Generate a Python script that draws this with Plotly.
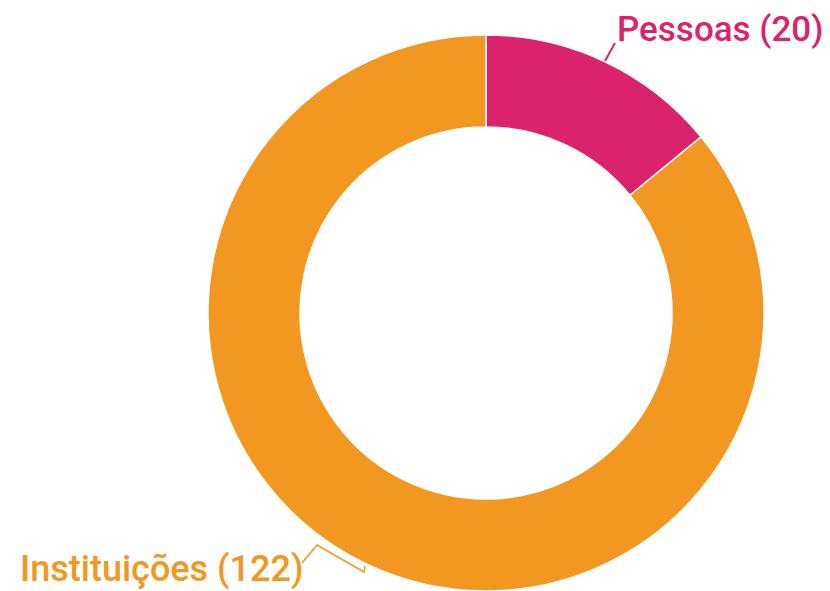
import plotly.graph_objects as go

labels = ["Pessoas", "Instituições"]
values = [20, 122]
colors = ["#DA236C", "#F29720"]

W, H = 830, 591
OFF = 8  # page body margin offset

def px(x):
    return (x - OFF) / W

def py(y):
    return 1 - (y - OFF) / H

fig = go.Figure(go.Pie(
    labels=labels,
    values=values,
    hole=0.669,
    sort=False,
    direction="clockwise",
    rotation=0,
    marker=dict(colors=colors, line=dict(color="white", width=1.5)),
    textinfo="none",
    hoverinfo="label+value",
    domain=dict(x=[px(208), px(764)], y=[py(591), py(35)]),
    showlegend=False,
))

font_family = "Roboto"
fig.add_annotation(
    x=px(615), y=py(30), xref="paper", yref="paper",
    text=f"{labels[0]} ({values[0]})", showarrow=False,
    xanchor="left", yanchor="middle",
    font=dict(family=font_family, size=35, color=colors[0], weight=500),
)
fig.add_annotation(
    x=px(18), y=py(569), xref="paper", yref="paper",
    text=f"{labels[1]} ({values[1]})", showarrow=False,
    xanchor="left", yanchor="middle",
    font=dict(family=font_family, size=36, color=colors[1], weight=500),
)

def path(points):
    return "M " + " L ".join(f"{px(x)},{py(y)}" for x, y in points)

fig.add_shape(type="path", xref="paper", yref="paper",
              path=path([(605, 61), (615, 43)]),
              line=dict(color=colors[0], width=2))
fig.add_shape(type="path", xref="paper", yref="paper",
              path=path([(365, 566), (364, 572), (317, 545), (302, 563)]),
              line=dict(color=colors[1], width=1.5))

fig.update_layout(
    width=W, height=H,
    margin=dict(l=0, r=0, t=0, b=0),
    paper_bgcolor="white", plot_bgcolor="white",
)

fig.write_html("out.html")
